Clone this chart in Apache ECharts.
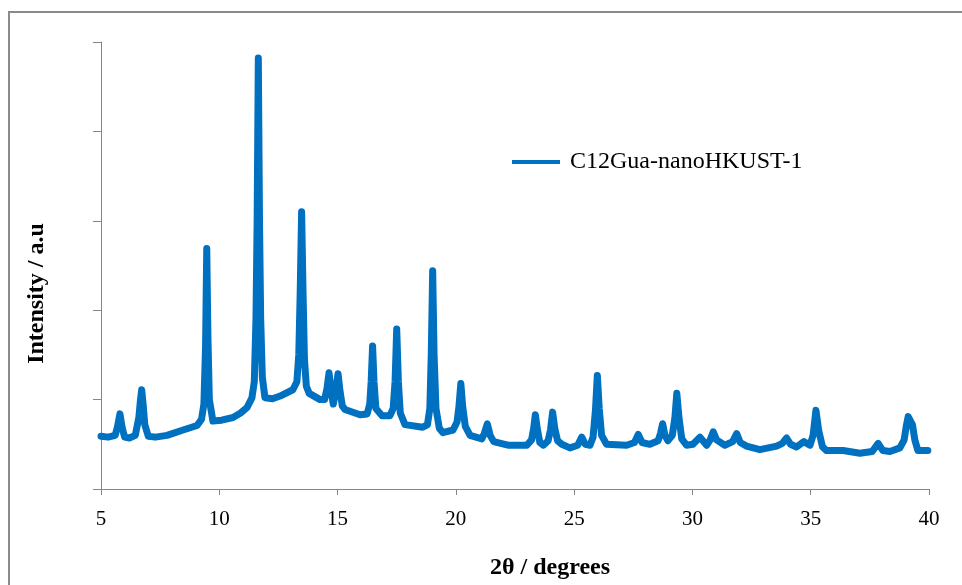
<!DOCTYPE html>
<html>
<head>
<meta charset="utf-8">
<script src="https://cdn.jsdelivr.net/npm/echarts@6/dist/echarts.min.js"></script>
<style>html,body{margin:0;padding:0;background:#fff}#c{width:962px;height:585px}</style>
</head>
<body>
<div id="c"></div>
<script>
const seriesName = 'C12Gua-nanoHKUST-1';
const xTicks = [5, 10, 15, 20, 25, 30, 35, 40];
const twoTheta = [
5.00,5.30,5.60,5.70,5.80,5.90,6.00,6.20,6.45,6.60,6.67,6.72,6.78,6.85,7.00,7.30,7.79,8.47,9.06,9.25,
9.35,9.42,9.47,9.52,9.58,9.73,10.10,10.58,10.90,11.17,11.38,11.48,11.55,11.60,11.65,11.70,11.75,11.82,11.93,12.25,
12.57,13.11,13.28,13.36,13.42,13.48,13.54,13.60,13.68,13.80,14.26,14.45,14.55,14.64,14.72,14.82,14.92,15.02,15.10,15.20,
15.31,15.95,16.25,16.36,16.42,16.48,16.54,16.62,16.88,17.21,17.35,17.43,17.50,17.57,17.65,17.85,18.60,18.80,18.90,18.96,
19.02,19.08,19.16,19.30,19.45,19.88,20.05,20.13,20.21,20.29,20.40,20.60,21.10,21.20,21.33,21.45,21.60,22.20,23.00,23.20,
23.29,23.36,23.45,23.55,23.70,23.90,24.00,24.09,24.18,24.30,24.48,24.82,25.15,25.32,25.47,25.67,25.80,25.90,25.98,26.06,
26.16,26.37,27.22,27.55,27.71,27.87,28.20,28.55,28.65,28.74,28.84,28.96,29.15,29.26,29.34,29.43,29.55,29.75,30.02,30.32,
30.60,30.75,30.88,31.02,31.37,31.70,31.87,32.02,32.29,32.85,33.56,33.80,33.98,34.15,34.40,34.71,34.97,35.10,35.22,35.34,
35.50,35.67,36.37,37.08,37.60,37.85,38.05,38.35,38.77,38.95,39.05,39.12,39.22,39.30,39.40,39.53,39.95
];
const intensity = [
0.59,0.58,0.60,0.70,0.84,0.68,0.58,0.57,0.60,0.80,1.00,1.11,0.95,0.72,0.59,0.58,0.60,0.66,0.71,0.78,
0.95,1.60,2.69,1.70,1.00,0.76,0.77,0.80,0.85,0.91,1.02,1.20,1.90,3.00,4.82,3.00,1.90,1.25,1.02,1.01,
1.04,1.11,1.20,1.50,2.20,3.10,2.20,1.45,1.15,1.07,1.00,1.00,1.12,1.30,1.10,0.95,1.10,1.29,1.10,0.93,
0.89,0.83,0.84,0.95,1.20,1.60,1.20,0.90,0.82,0.82,0.90,1.20,1.79,1.20,0.85,0.72,0.69,0.72,0.90,1.50,
2.44,1.50,0.90,0.68,0.63,0.66,0.75,0.92,1.18,0.92,0.70,0.60,0.56,0.62,0.73,0.60,0.53,0.49,0.49,0.55,
0.68,0.83,0.66,0.52,0.49,0.54,0.66,0.86,0.68,0.54,0.50,0.46,0.49,0.58,0.50,0.49,0.58,0.88,1.27,0.90,
0.60,0.50,0.49,0.52,0.61,0.52,0.50,0.54,0.62,0.73,0.60,0.54,0.60,0.80,1.07,0.80,0.56,0.49,0.50,0.58,
0.49,0.55,0.64,0.55,0.49,0.53,0.62,0.52,0.48,0.44,0.48,0.51,0.57,0.50,0.47,0.53,0.49,0.60,0.88,0.65,
0.47,0.43,0.43,0.40,0.42,0.51,0.43,0.42,0.46,0.55,0.72,0.81,0.76,0.72,0.55,0.43,0.43
];
const points = twoTheta.map((x, i) => [x, intensity[i]]);

const serif = '"Liberation Serif", "DejaVu Serif", serif';
const chart = echarts.init(document.getElementById('c'), null, {renderer: 'canvas'});
chart.setOption({
  animation: false,
  backgroundColor: '#ffffff',
  grid: {left: 101, right: 33, top: 42, bottom: 93, containLabel: false},
  graphic: [{
    type: 'rect', silent: true,
    shape: {x: 9, y: 12, width: 1000, height: 1000},
    style: {fill: 'none', stroke: '#8a8a8a', lineWidth: 2}
  }],
  legend: {
    left: 507, top: 145,
    itemWidth: 48, itemHeight: 4, itemGap: 10,
    icon: 'rect',
    textStyle: {fontFamily: serif, fontSize: 24, color: '#000', padding: [0, 0, 0, 5]},
    data: [seriesName]
  },
  xAxis: {
    type: 'value', min: xTicks[0], max: xTicks[xTicks.length - 1], interval: 5,
    axisLine: {lineStyle: {color: '#868686', width: 1}},
    axisTick: {show: true, length: 6, lineStyle: {color: '#868686'}},
    splitLine: {show: false},
    axisLabel: {fontFamily: serif, fontSize: 21, color: '#000', margin: 20},
    name: '2θ / degrees', nameLocation: 'middle', nameGap: 67,
    nameTextStyle: {fontFamily: serif, fontSize: 24, fontWeight: 'bold', color: '#000', padding: [0, 0, 0, 70]}
  },
  yAxis: {
    type: 'value', min: 0, max: 5, interval: 1,
    axisLine: {show: true, lineStyle: {color: '#868686', width: 1}},
    axisTick: {show: true, length: 8, lineStyle: {color: '#868686'}},
    splitLine: {show: false},
    axisLabel: {show: false},
    name: 'Intensity / a.u', nameLocation: 'middle', nameGap: 52,
    nameTextStyle: {fontFamily: serif, fontSize: 24, fontWeight: 'bold', color: '#000', padding: [0, 56, 0, 0]}
  },
  series: [{
    name: seriesName, type: 'line', data: points,
    showSymbol: false, symbol: 'none', smooth: false,
    lineStyle: {color: '#0070C0', width: 7, join: 'round', cap: 'round'},
    itemStyle: {color: '#0070C0'}
  }]
});
</script>
</body>
</html>
